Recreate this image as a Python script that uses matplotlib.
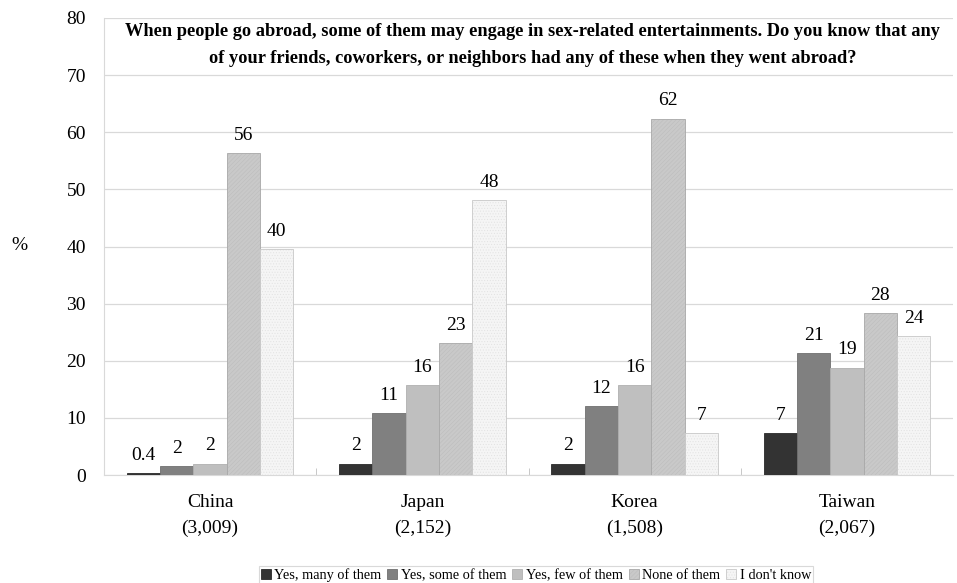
import numpy as np
import matplotlib
matplotlib.use("Agg")
import matplotlib.pyplot as plt

plt.rcParams["font.family"] = ["Liberation Serif", "DejaVu Serif"]
plt.rcParams["hatch.linewidth"] = 0.4

countries = ["China\n(3,009)", "Japan\n(2,152)", "Korea\n(1,508)", "Taiwan\n(2,067)"]
series_names = ["Yes, many of them", "Yes, some of them", "Yes, few of them",
                "None of them", "I don't know"]

many = [0.4, 2.0, 2.0, 7.3]
some = [1.6, 10.9, 12.1, 21.4]
few = [2.0, 15.8, 15.8, 18.8]
none_ = [56.4, 23.1, 62.4, 28.3]
dont_know = [39.5, 48.1, 7.4, 24.3]

many_lbl = ["0.4", "2", "2", "7"]
some_lbl = ["2", "11", "12", "21"]
few_lbl = ["2", "16", "16", "19"]
none_lbl = ["56", "23", "62", "28"]
dont_know_lbl = ["40", "48", "7", "24"]

values = [many, some, few, none_, dont_know]
labels = [many_lbl, some_lbl, few_lbl, none_lbl, dont_know_lbl]
colors = ["#333333", "#808080", "#bfbfbf", "#c9c9c9", "#f5f5f5"]
edges = ["#2a2a2a", "#707070", "#b0b0b0", "#a8a8a8", "#c8c8c8"]
hatches = [None, None, None, "////////", "......"]
hatch_cols = [None, None, None, "#bdbdbd", "#e2e2e2"]

title = ("When people go abroad, some of them may engage in sex-related entertainments. "
         "Do you know that any\nof your friends, coworkers, or neighbors had any of "
         "these when they went abroad?")

fig = plt.figure(figsize=(9.57, 5.83), dpi=100)
ax = fig.add_axes([104 / 957, 1 - 475 / 583, (953 - 104) / 957, (475 - 18) / 583])

x = np.arange(len(countries))
w = 0.157
for i, (vals, lbls) in enumerate(zip(values, labels)):
    pos = x + (i - 2) * w
    bars = ax.bar(pos, vals, w, color=colors[i], edgecolor=edges[i], linewidth=0.6,
                  label=series_names[i], zorder=3)
    if hatches[i]:
        for b in bars:
            b.set_hatch(hatches[i])
            b._hatch_color = matplotlib.colors.to_rgba(hatch_cols[i])
    for b, t in zip(bars, lbls):
        ax.text(b.get_x() + b.get_width() / 2, b.get_height() + 1.6, t,
                ha="center", va="bottom", fontsize=14)

ax.set_xlim(-0.5, 3.5)
ax.set_ylim(0, 80)
ax.set_yticks(range(0, 81, 10))
ax.yaxis.grid(True, color="#d9d9d9", linewidth=0.9, zorder=0)
ax.set_axisbelow(True)
ax.set_xticks(x)
ax.set_xticklabels(countries, fontsize=14, linespacing=1.6)
ax.set_xticks([0.5, 1.5, 2.5], minor=True)
ax.tick_params(axis="x", which="major", length=0, pad=14)
ax.tick_params(axis="x", which="minor", direction="in", length=5, color="#bfbfbf")
ax.tick_params(axis="y", length=0, labelsize=14, pad=13)
for s in ["top", "right"]:
    ax.spines[s].set_visible(False)
ax.spines["left"].set_color("#d9d9d9")
ax.spines["bottom"].set_color("#d9d9d9")

ax.text(0.505, 0.988, title, transform=ax.transAxes, ha="center", va="top",
        fontsize=13.2, fontweight="bold", linespacing=1.7)

fig.text(11 / 957, 1 - 245 / 583, "%", fontsize=14, ha="left", va="center")

leg = fig.legend(loc="lower center", bbox_to_anchor=(0.56, -0.005), ncol=5,
                 fontsize=10.3, frameon=True, fancybox=False, handlelength=0.7,
                 handleheight=0.7, handletextpad=0.25, columnspacing=0.4,
                 borderpad=0.15, borderaxespad=0.1)
leg.get_frame().set_edgecolor("#d0d0d0")
leg.get_frame().set_linewidth(0.8)

fig.savefig("out.png", dpi=100)
